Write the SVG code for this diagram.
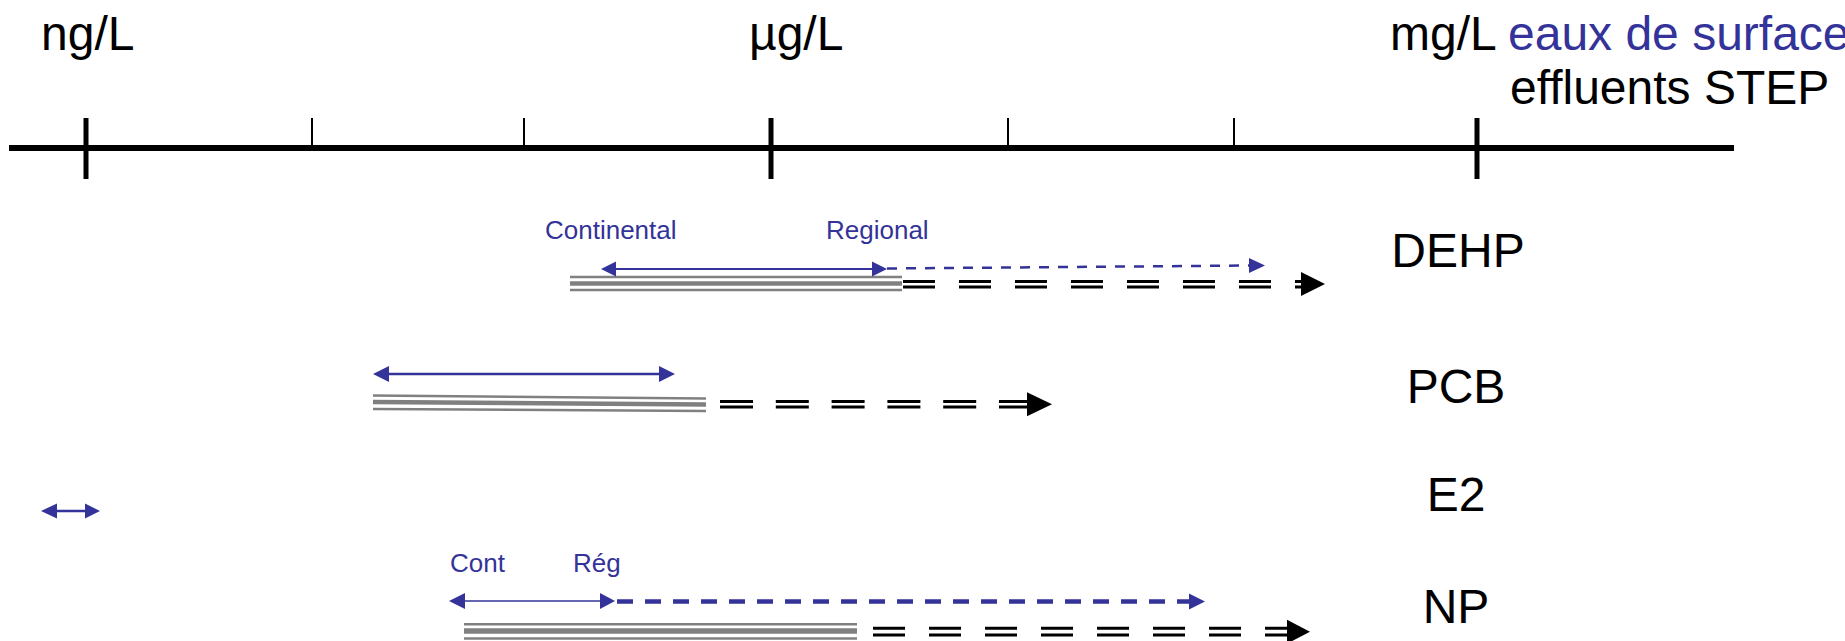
<svg xmlns="http://www.w3.org/2000/svg" width="1845" height="641" viewBox="0 0 1845 641">
<style>
.big{font-family:"Liberation Sans",Arial,sans-serif;font-size:48px;fill:#000}
.blue{fill:#333399}
.small{font-family:"Liberation Sans",Arial,sans-serif;font-size:26px;fill:#333399}
.axis{stroke:#000;fill:none}
.bl{stroke:#333399;fill:none}
.gr{stroke:#808080;fill:none}
.dd{stroke:#000;stroke-width:3;fill:none}
.hb{fill:#333399}
.hk{fill:#000}
.lbl{font-family:"Liberation Sans",Arial,sans-serif;font-size:48px;fill:#000;text-anchor:middle}
</style>
<g id="axis">
<line class="axis" x1="9" y1="148" x2="1734" y2="148" stroke-width="6"/>
<line class="axis" x1="86" y1="118" x2="86" y2="179" stroke-width="5"/>
<line class="axis" x1="771" y1="118" x2="771" y2="179" stroke-width="5"/>
<line class="axis" x1="1477" y1="118" x2="1477" y2="179" stroke-width="5"/>
<line class="axis" x1="312" y1="118" x2="312" y2="148" stroke-width="2"/>
<line class="axis" x1="524" y1="118" x2="524" y2="148" stroke-width="2"/>
<line class="axis" x1="1008" y1="118" x2="1008" y2="148" stroke-width="2"/>
<line class="axis" x1="1234" y1="118" x2="1234" y2="148" stroke-width="2"/>
<text class="big" x="41" y="50">ng/L</text>
<text class="big" x="749" y="50">µg/L</text>
<text class="big" x="1390" y="50">mg/L</text>
<text class="big blue" x="1508" y="50">eaux de surface</text>
<text class="big" x="1510" y="104">effluents STEP</text>
</g>
<g id="DEHP">
<text class="lbl" x="1458" y="267">DEHP</text>
<text class="small" x="545" y="239">Continental</text>
<text class="small" x="826" y="239">Regional</text>
</g>
<g id="PCB">
<text class="lbl" x="1456" y="403">PCB</text>
</g>
<g id="E2">
<text class="lbl" x="1456" y="511">E2</text>
</g>
<g id="NP">
<text class="lbl" x="1456" y="623">NP</text>
<text class="small" x="450" y="572">Cont</text>
<text class="small" x="573" y="572">Rég</text>
</g>
<g id="connectors">
<!-- DEHP -->
<line class="gr" x1="570" y1="277" x2="902" y2="277" stroke-width="2.5"/>
<line class="gr" x1="570" y1="283.5" x2="902" y2="283.5" stroke-width="4.5"/>
<line class="gr" x1="570" y1="290" x2="902" y2="290" stroke-width="2.5"/>
<line class="dd" x1="903" y1="281.5" x2="1306" y2="281.5" stroke-dasharray="32 24"/>
<line class="dd" x1="903" y1="287" x2="1306" y2="287" stroke-dasharray="32 24"/>
<polygon class="hk" points="1325,284 1301,272 1301,296"/>
<line class="bl" x1="612" y1="269" x2="876" y2="269" stroke-width="2"/>
<polygon class="hb" points="601,269 616,261.5 616,276.5"/>
<polygon class="hb" points="887,269 872,261.5 872,276.5"/>
<line class="bl" x1="887" y1="268.5" x2="1250" y2="265.5" stroke-width="2.5" stroke-dasharray="10 9"/>
<polygon class="hb" points="1265,265.5 1249,258 1249,273"/>
<!-- PCB -->
<line class="gr" x1="373" y1="395.5" x2="706" y2="398.5" stroke-width="2.5"/>
<line class="gr" x1="373" y1="402" x2="706" y2="404.5" stroke-width="4.5"/>
<line class="gr" x1="373" y1="409" x2="706" y2="411" stroke-width="2.5"/>
<line class="dd" x1="720" y1="401.5" x2="1030" y2="401.5" stroke-dasharray="33 22.8"/>
<line class="dd" x1="720" y1="407" x2="1030" y2="407" stroke-dasharray="33 22.8"/>
<polygon class="hk" points="1052,404.2 1027,392.2 1027,416.2"/>
<line class="bl" x1="385" y1="374" x2="664" y2="374" stroke-width="2.5"/>
<polygon class="hb" points="373,374 389,366 389,382"/>
<polygon class="hb" points="675,374 659,366 659,382"/>
<!-- E2 -->
<line class="bl" x1="52" y1="511" x2="90" y2="511" stroke-width="2.5"/>
<polygon class="hb" points="41,511 57,503.5 57,518.5"/>
<polygon class="hb" points="100,511 85,503.5 85,518.5"/>
<!-- NP -->
<line class="gr" x1="464" y1="624.3" x2="857" y2="624.3" stroke-width="2.5"/>
<line class="gr" x1="464" y1="631" x2="857" y2="631" stroke-width="5.5"/>
<line class="gr" x1="464" y1="638.5" x2="857" y2="638.5" stroke-width="2.5"/>
<line class="dd" x1="873" y1="628.3" x2="1292" y2="628.3" stroke-dasharray="32 24"/>
<line class="dd" x1="873" y1="635" x2="1292" y2="635" stroke-dasharray="32 24"/>
<polygon class="hk" points="1310,631.7 1287,619.7 1287,643.7"/>
<line class="bl" x1="460" y1="601" x2="604" y2="601" stroke-width="1.5"/>
<polygon class="hb" points="449,601 465,593 465,609"/>
<polygon class="hb" points="615,601 600,593 600,609"/>
<line class="bl" x1="617" y1="601.5" x2="1190" y2="601.5" stroke-width="4.5" stroke-dasharray="16 12"/>
<polygon class="hb" points="1205,601.5 1189,593.5 1189,609.5"/>
</g>
</svg>
